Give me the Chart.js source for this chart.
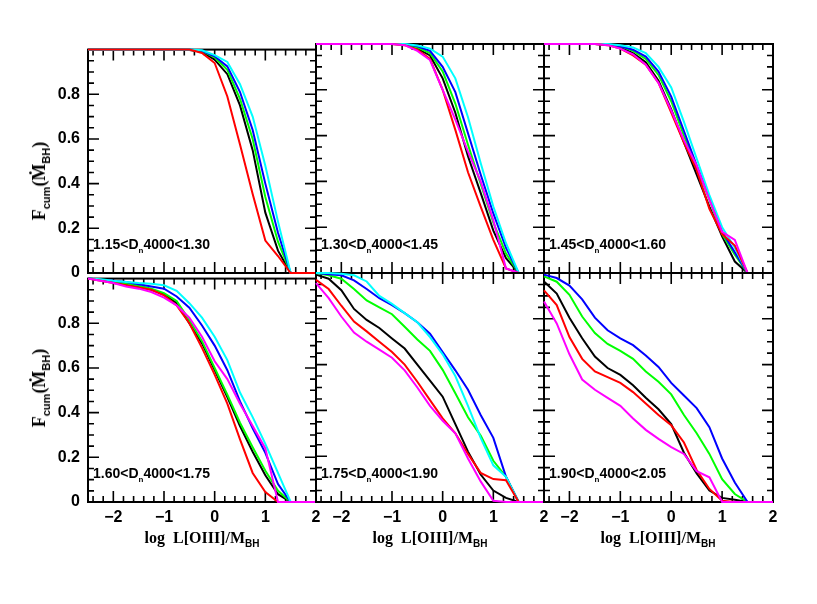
<!DOCTYPE html>
<html>
<head>
<meta charset="utf-8">
<script src="https://cdn.jsdelivr.net/npm/chart.js@4"></script>
<style>
  body { margin: 0; background: #fff; }
  #wrap { position: relative; width: 817px; height: 604px; overflow: hidden; }
  #wrap canvas { position: absolute; }
  .bin { position: absolute; font: bold 14px "Liberation Sans", Arial, sans-serif; line-height: 14px; white-space: nowrap; color: #000; }
  .bin sub { font-size: 8px; vertical-align: -4px; line-height: 0; }
  .xt { position: absolute; width: 228px; text-align: center; font: bold 16px "Liberation Serif", serif; line-height: 16px; white-space: nowrap; }
  .xt sub { font-size: 10px; vertical-align: -4px; line-height: 0; font-family: "Liberation Sans", sans-serif; }
  .yt { position: absolute; left: 39px; transform: translate(-50%, -50%) rotate(-90deg); font: bold 18px "Liberation Serif", serif; line-height: 18px; white-space: nowrap; }
  .yt sub { font-size: 11px; vertical-align: -5px; line-height: 0; font-family: "Liberation Sans", sans-serif; }
</style>
</head>
<body>
<div id="wrap"></div>
<script>
// log L[OIII]/M_BH sampling, shared by every curve
const xGrid = [-2.5, -2.25, -2, -1.75, -1.5, -1.25, -1, -0.75, -0.5, -0.25, 0, 0.25, 0.5, 0.75, 1, 1.25, 1.5, 2];
const xTicks = [-2, -1, 0, 1, 2];
const yTicks = [0, 0.2, 0.4, 0.6, 0.8];

// 1.15 < Dn4000 < 1.30
const binA_black = [1, 1, 1, 1, 1, 1, 1, 1, 0.998, 0.99, 0.955, 0.89, 0.75, 0.55, 0.27, 0.10, 0, 0];
const binA_green = [1, 1, 1, 1, 1, 1, 1, 1, 1, 0.993, 0.965, 0.91, 0.78, 0.60, 0.34, 0.14, 0, 0];
const binA_blue = [1, 1, 1, 1, 1, 1, 1, 1, 1, 0.995, 0.97, 0.925, 0.81, 0.64, 0.40, 0.18, 0, 0];
const binA_cyan = [1, 1, 1, 1, 1, 1, 1, 1, 1, 0.997, 0.975, 0.945, 0.845, 0.70, 0.48, 0.23, 0, 0];
const binA_red = [1, 1, 1, 1, 1, 1, 1, 1, 1, 0.985, 0.94, 0.79, 0.575, 0.354, 0.145, 0.076, 0, 0];

// 1.30 < Dn4000 < 1.45
const binB_black = [1, 1, 1, 1, 1, 1, 1, 0.998, 0.98, 0.95, 0.85, 0.70, 0.51, 0.35, 0.185, 0.065, 0, 0];
const binB_green = [1, 1, 1, 1, 1, 1, 1, 0.999, 0.985, 0.96, 0.88, 0.74, 0.56, 0.39, 0.22, 0.085, 0, 0];
const binB_blue = [1, 1, 1, 1, 1, 1, 1, 1, 0.99, 0.97, 0.90, 0.79, 0.61, 0.43, 0.26, 0.11, 0, 0];
const binB_cyan = [1, 1, 1, 1, 1, 1, 1, 1, 0.993, 0.98, 0.945, 0.85, 0.68, 0.48, 0.29, 0.13, 0, 0];
const binB_red = [1, 1, 1, 1, 1, 1, 1, 0.995, 0.975, 0.935, 0.80, 0.625, 0.44, 0.29, 0.145, 0.02, 0, 0];
const binB_magenta = [1, 1, 1, 1, 1, 1, 1, 0.995, 0.97, 0.93, 0.80, 0.67, 0.53, 0.40, 0.23, 0.02, 0, 0];

// 1.45 < Dn4000 < 1.60
const binC_black = [1, 1, 1, 1, 1, 0.997, 0.985, 0.96, 0.92, 0.84, 0.715, 0.57, 0.43, 0.29, 0.16, 0.05, 0, 0];
const binC_green = [1, 1, 1, 1, 1, 0.998, 0.99, 0.97, 0.935, 0.865, 0.75, 0.60, 0.46, 0.32, 0.17, 0.08, 0, 0];
const binC_blue = [1, 1, 1, 1, 1, 0.999, 0.99, 0.975, 0.945, 0.88, 0.77, 0.62, 0.47, 0.33, 0.18, 0.09, 0, 0];
const binC_cyan = [1, 1, 1, 1, 1, 1, 0.995, 0.985, 0.96, 0.90, 0.81, 0.66, 0.50, 0.34, 0.20, 0.11, 0, 0];
const binC_red = [1, 1, 1, 1, 1, 0.995, 0.98, 0.95, 0.91, 0.83, 0.70, 0.57, 0.45, 0.28, 0.17, 0.12, 0, 0];
const binC_magenta = [1, 1, 1, 1, 1, 0.995, 0.98, 0.955, 0.91, 0.83, 0.71, 0.58, 0.47, 0.32, 0.18, 0.145, 0, 0];

// 1.60 < Dn4000 < 1.75
const binD_black = [1, 0.995, 0.985, 0.975, 0.965, 0.95, 0.93, 0.89, 0.80, 0.71, 0.59, 0.47, 0.34, 0.225, 0.12, 0.035, 0, 0];
const binD_green = [1, 0.995, 0.987, 0.978, 0.968, 0.955, 0.935, 0.90, 0.815, 0.72, 0.60, 0.48, 0.355, 0.245, 0.14, 0.05, 0, 0];
const binD_blue = [1, 0.995, 0.99, 0.985, 0.975, 0.965, 0.955, 0.92, 0.87, 0.79, 0.70, 0.59, 0.45, 0.33, 0.22, 0.08, 0, 0];
const binD_cyan = [1, 0.997, 0.99, 0.985, 0.98, 0.977, 0.97, 0.945, 0.89, 0.825, 0.74, 0.635, 0.49, 0.38, 0.26, 0.13, 0, 0];
const binD_red = [1, 0.99, 0.98, 0.97, 0.96, 0.95, 0.925, 0.88, 0.80, 0.69, 0.57, 0.44, 0.28, 0.13, 0.045, 0, 0, 0];
const binD_magenta = [1, 0.99, 0.98, 0.965, 0.955, 0.94, 0.915, 0.88, 0.825, 0.74, 0.63, 0.55, 0.44, 0.34, 0.24, 0, 0, 0];

// 1.75 < Dn4000 < 1.90
const binE_black = [0.993, 0.975, 0.925, 0.843, 0.795, 0.76, 0.714, 0.67, 0.60, 0.53, 0.46, 0.34, 0.22, 0.12, 0.05, 0.018, 0, 0];
const binE_green = [1, 0.99, 0.975, 0.93, 0.88, 0.85, 0.82, 0.765, 0.71, 0.66, 0.577, 0.475, 0.37, 0.29, 0.18, 0.11, 0, 0];
const binE_blue = [1, 0.995, 0.99, 0.968, 0.93, 0.89, 0.86, 0.825, 0.785, 0.735, 0.655, 0.575, 0.49, 0.38, 0.28, 0.11, 0, 0];
const binE_cyan = [1, 1, 0.997, 0.99, 0.963, 0.90, 0.865, 0.825, 0.785, 0.72, 0.645, 0.55, 0.42, 0.28, 0.16, 0.11, 0, 0];
const binE_red = [0.97, 0.93, 0.857, 0.788, 0.745, 0.70, 0.655, 0.60, 0.525, 0.445, 0.365, 0.30, 0.21, 0.127, 0.10, 0.095, 0, 0];
const binE_magenta = [0.956, 0.89, 0.81, 0.74, 0.70, 0.665, 0.63, 0.575, 0.50, 0.42, 0.355, 0.30, 0.19, 0.09, 0.005, 0, 0, 0];

// 1.90 < Dn4000 < 2.05
const binF_black = [0.963, 0.91, 0.805, 0.715, 0.635, 0.585, 0.555, 0.51, 0.455, 0.405, 0.34, 0.215, 0.125, 0.05, 0.018, 0.01, 0, 0];
const binF_green = [0.985, 0.962, 0.905, 0.81, 0.738, 0.69, 0.66, 0.625, 0.57, 0.525, 0.47, 0.38, 0.30, 0.21, 0.10, 0.035, 0, 0];
const binF_blue = [0.993, 0.978, 0.945, 0.885, 0.805, 0.75, 0.715, 0.685, 0.64, 0.59, 0.52, 0.465, 0.41, 0.327, 0.19, 0.085, 0, 0];
const binF_red = [0.924, 0.86, 0.72, 0.625, 0.57, 0.545, 0.52, 0.48, 0.43, 0.38, 0.335, 0.26, 0.14, 0.057, 0.005, 0, 0, 0];
const binF_magenta = [0.876, 0.78, 0.645, 0.535, 0.49, 0.455, 0.42, 0.365, 0.315, 0.276, 0.24, 0.21, 0.135, 0.108, 0, 0, 0, 0];

const binLabels = [["1.15", "1.30"], ["1.30", "1.45"], ["1.45", "1.60"], ["1.60", "1.75"], ["1.75", "1.90"], ["1.90", "2.05"]];

const colors = { black: "#000000", green: "#00ff00", blue: "#0000ff", cyan: "#00ffff", red: "#ff0000", magenta: "#ff00ff" };

// series per panel, listed in drawing order (last one ends up on top)
const panels = [
  [["black", binA_black], ["green", binA_green], ["blue", binA_blue], ["cyan", binA_cyan], ["red", binA_red]],
  [["black", binB_black], ["green", binB_green], ["blue", binB_blue], ["cyan", binB_cyan], ["red", binB_red], ["magenta", binB_magenta]],
  [["black", binC_black], ["green", binC_green], ["blue", binC_blue], ["cyan", binC_cyan], ["red", binC_red], ["magenta", binC_magenta]],
  [["black", binD_black], ["green", binD_green], ["blue", binD_blue], ["cyan", binD_cyan], ["red", binD_red], ["magenta", binD_magenta]],
  [["black", binE_black], ["green", binE_green], ["blue", binE_blue], ["cyan", binE_cyan], ["red", binE_red], ["magenta", binE_magenta]],
  [["black", binF_black], ["green", binF_green], ["blue", binF_blue], ["red", binF_red], ["magenta", binF_magenta]]
];

// panel geometry (plot box in page pixels)
const colLeft = [88, 316, 544];
const colWidth = [228, 228, 229];
const rowTop = [44, 273];
const boxH = 229;
const titleShift = [22, 0];
const AXW = 80, AXH = 60, PADT = 12, PADR = 14;

// inward ticks on all four sides, drawn before the curves
const framePlugin = {
  id: "frame",
  beforeDatasetsDraw(chart) {
    const { ctx, chartArea: a, scales: { x, y } } = chart;
    ctx.save();
    ctx.strokeStyle = "#000";
    ctx.lineWidth = 2;
    ctx.strokeRect(a.left, a.top, a.right - a.left, a.bottom - a.top);
    ctx.lineWidth = 1.6;
    ctx.beginPath();
    for (let k = -12; k <= 9; k++) {
      const p = x.getPixelForValue(k / 5);
      const len = k % 5 === 0 ? 11 : 6;
      ctx.moveTo(p, a.bottom); ctx.lineTo(p, a.bottom - len);
      ctx.moveTo(p, a.top); ctx.lineTo(p, a.top + len);
    }
    for (let k = 1; k < 20; k++) {
      const p = y.getPixelForValue(k / 20);
      const len = k % 4 === 0 ? 11 : 6;
      ctx.moveTo(a.left, p); ctx.lineTo(a.left + len, p);
      ctx.moveTo(a.right, p); ctx.lineTo(a.right - len, p);
    }
    ctx.stroke();
    ctx.restore();
  }
};

const wrap = document.getElementById("wrap");
const tickFont = { family: "Liberation Sans", weight: "bold", size: 16 };

panels.forEach((series, i) => {
  const col = i % 3, row = Math.floor(i / 3);
  const L = colLeft[col], T = rowTop[row], W = colWidth[col];
  const cv = document.createElement("canvas");
  cv.width = AXW + W + PADR;
  cv.height = PADT + boxH + AXH;
  cv.style.left = (L - AXW) + "px";
  cv.style.top = (T - PADT) + "px";
  wrap.appendChild(cv);

  const datasets = series.map(([name, vals]) => ({
    data: vals.map((v, k) => ({ x: xGrid[k], y: v })),
    borderColor: colors[name],
    borderWidth: 2,
    pointRadius: 0,
    tension: 0,
    fill: false,
    clip: 3
  })).reverse();

  new Chart(cv, {
    type: "line",
    data: { datasets },
    options: {
      responsive: false,
      animation: false,
      events: [],
      layout: { padding: { left: 0, top: PADT, right: PADR, bottom: 0 } },
      plugins: { legend: { display: false }, tooltip: { enabled: false } },
      scales: {
        x: {
          type: "linear", min: -2.5, max: 2,
          grid: { display: false, drawTicks: false },
          border: { display: false },
          afterBuildTicks: s => { s.ticks = xTicks.map(v => ({ value: v })); },
          afterFit: s => { s.height = AXH; },
          ticks: {
            display: row === 1, padding: 6, color: "#000", font: tickFont,
            maxRotation: 0, autoSkip: false,
            callback: v => (v < 0 ? "\u2212" + Math.abs(v) : String(v))
          }
        },
        y: {
          type: "linear", min: 0, max: 1,
          grid: { display: false, drawTicks: false },
          border: { display: false },
          afterBuildTicks: s => { s.ticks = yTicks.map(v => ({ value: v })); },
          afterFit: s => { s.width = AXW; },
          ticks: {
            display: col === 0, padding: 8, color: "#000", font: tickFont,
            callback: v => (v === 0 ? "0" : v.toFixed(1))
          }
        }
      }
    },
    plugins: [framePlugin]
  });

  const lab = document.createElement("div");
  lab.className = "bin";
  lab.style.left = (L + 5) + "px";
  lab.style.top = (T + boxH - 36) + "px";
  lab.innerHTML = binLabels[i][0] + "&lt;D<sub>n</sub>4000&lt;" + binLabels[i][1];
  wrap.appendChild(lab);

  if (row === 1) {
    const xt = document.createElement("div");
    xt.className = "xt";
    xt.style.left = L + "px";
    xt.style.top = "530px";
    xt.innerHTML = "log&nbsp;&nbsp;L[OIII]/M<sub>BH</sub>";
    wrap.appendChild(xt);
  }
  if (col === 0) {
    const yt = document.createElement("div");
    yt.className = "yt";
    yt.style.top = (T + boxH / 2 + titleShift[row]) + "px";
    yt.innerHTML = "F<sub>cum</sub>(\u1E40<sub>BH</sub>)";
    wrap.appendChild(yt);
  }
});
</script>
</body>
</html>
